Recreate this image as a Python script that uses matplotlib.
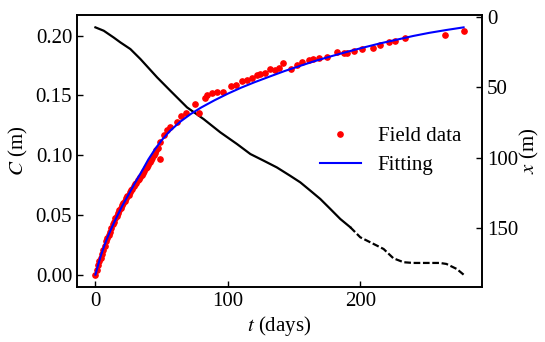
import matplotlib
matplotlib.use("Agg")
import matplotlib.pyplot as plt
import numpy as np

plt.rcParams['font.family'] = ['Liberation Serif', 'DejaVu Serif']
plt.rcParams['mathtext.fontset'] = 'stix'
plt.rcParams['font.size'] = 15

# Field data (t in days, C in m)
field_t = [0, 1, 2, 3, 4, 5, 6, 7, 8, 9, 10, 11, 12, 13, 14, 15, 16, 17, 18, 19,
           20, 21, 22, 23, 24, 25, 26, 27, 28, 29, 30, 31, 32, 33, 34, 35, 36, 37,
           38, 39, 40, 41, 42, 43, 44, 45, 46, 47, 48.5, 49, 51.5, 54, 56.6, 61.6,
           65, 68.7, 75, 78.5, 83, 84.3, 88, 91.8, 96.4, 102.6, 106, 110.7, 114.5,
           118, 122, 124.5, 128, 132, 135.8, 138.4, 142, 147.7, 152, 156, 161, 164,
           169, 174.9, 182.4, 187.4, 190, 195.5, 201.3, 209.6, 215, 222, 226.4, 234,
           263.6, 278]
field_C = [0.000, 0.004, 0.008, 0.011, 0.014, 0.017, 0.021, 0.024, 0.028, 0.031,
           0.033, 0.036, 0.039, 0.042, 0.044, 0.047, 0.049, 0.052, 0.054, 0.056,
           0.058, 0.060, 0.062, 0.064, 0.066, 0.067, 0.069, 0.071, 0.072, 0.074,
           0.076, 0.077, 0.079, 0.080, 0.082, 0.083, 0.085, 0.087, 0.089, 0.090,
           0.092, 0.094, 0.096, 0.098, 0.100, 0.102, 0.104, 0.106, 0.097, 0.111,
           0.117, 0.121, 0.124, 0.128, 0.133, 0.135, 0.1425, 0.135, 0.148, 0.1506,
           0.152, 0.1525, 0.1533, 0.1575, 0.159, 0.1617, 0.163, 0.165, 0.167, 0.168,
           0.1687, 0.172, 0.1714, 0.173, 0.177, 0.172, 0.1756, 0.178, 0.1797, 0.1806,
           0.181, 0.1825, 0.1867, 0.1853, 0.1853, 0.1875, 0.189, 0.1895, 0.192,
           0.1945, 0.196, 0.1983, 0.2006, 0.2042]

# Fitting curve
fit_t = [0, 1, 2, 4, 6, 8, 10, 13, 16, 20, 25, 30, 35, 40, 45, 50, 56, 64, 72,
         80, 90, 100, 110, 120, 132, 143, 154.7, 164.8, 177, 190, 202, 215, 228,
         240, 252, 265, 278]
fit_C = [0.000, 0.004, 0.008, 0.0155, 0.022, 0.028, 0.0335, 0.041, 0.048, 0.057,
         0.067, 0.077, 0.0865, 0.0965, 0.105, 0.1125, 0.120, 0.128, 0.1345,
         0.140, 0.146, 0.1515, 0.1565, 0.161, 0.166, 0.1705, 0.1748, 0.1785,
         0.1825, 0.1865, 0.1900, 0.1936, 0.1968, 0.1998, 0.2024, 0.2048, 0.2070]

# Front position x (m) vs t, solid part and dashed part
x_t_solid = [0, 6.3, 13.8, 18.9, 26.4, 34, 46.6, 56.6, 69.2, 81.7, 94.3, 106.9,
             117, 127, 137, 147, 154.7, 162.3, 169.8, 177.4, 184.9, 192.5]
x_solid = [7.4, 9.8, 14.6, 18.1, 22.8, 29.9, 42.9, 52.4, 64.2, 72.5, 81.9, 90.2,
           97.3, 102, 106.8, 112.7, 117.4, 123.3, 129.2, 136.3, 143.4, 149.3]
x_t_dash = [192.5, 200, 210, 217.6, 225, 232.7, 240, 260, 265, 272.9, 278]
x_dash = [149.3, 156.4, 161.1, 164.7, 171.3, 174.1, 174.6, 174.6, 175.3, 178.9, 182.9]

fig = plt.figure(figsize=(5.45, 3.42), dpi=100)
ax = fig.add_axes([77/545, 1-287/342, (482-77)/545, (287-15)/342])
ax2 = ax.twinx()

ax2.plot(x_t_solid, x_solid, color='black', lw=1.6)
ax2.plot(x_t_dash, x_dash, color='black', lw=1.6, linestyle=(0, (3.0, 1.2)))
ax2.invert_yaxis()

ax.plot(field_t, field_C, 'o', color='red', markersize=3.8, label='Field data', zorder=3)
ax.plot(fit_t, fit_C, '-', color='blue', lw=1.5, label='Fitting', zorder=4)
ax.set_zorder(ax2.get_zorder() + 1)
ax.patch.set_visible(False)

ax.set_xlabel('$t$ (days)', labelpad=2)
ax.set_ylabel('$C$ (m)', labelpad=4)
ax2.set_ylabel('$x$ (m)', labelpad=0)
ax.set_yticks([0.00, 0.05, 0.10, 0.15, 0.20])
ax.set_xticks([0, 100, 200])
ax2.set_yticks([0, 50, 100, 150])

for a in (ax, ax2):
    a.tick_params(direction='in', length=4, width=1, labelsize=15)
    for s in a.spines.values():
        s.set_linewidth(1.2)

ax.legend(loc='center right', frameon=False, fontsize=15, bbox_to_anchor=(0.995, 0.5),
          handlelength=2.0, handletextpad=0.8, labelspacing=0.45)

fig.savefig('out.png', dpi=100)
